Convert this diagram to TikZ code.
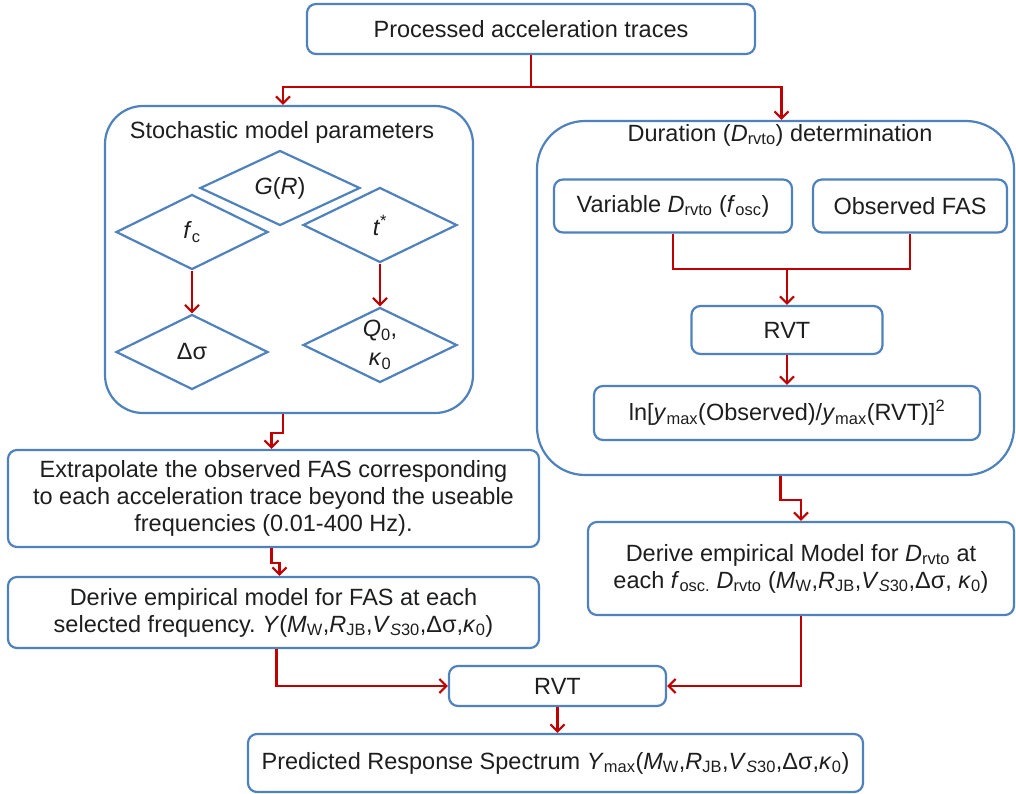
\documentclass[tikz,border=0pt]{standalone}
\usepackage{fontspec}
\setmainfont{Liberation Sans}
\usetikzlibrary{arrows.meta,shapes.geometric}
\definecolor{boxblue}{RGB}{79,129,189}
\definecolor{flowred}{RGB}{192,0,0}
\definecolor{inkgray}{RGB}{30,30,30}
\newcommand{\sbs}[1]{\textsubscript{#1}}

\begin{document}
\begin{tikzpicture}[x=1pt,y=-1pt,
    box/.style={draw=boxblue, line width=2.2pt, rounded corners=9pt, align=center,
        inner sep=0pt, text=inkgray, font=\fontsize{23.5}{27}\selectfont},
    panel/.style={draw=boxblue, line width=2.2pt, inner sep=0pt},
    dia/.style={draw=boxblue, line width=2.2pt, diamond, aspect=2, inner sep=0pt,
        align=center, minimum width=154pt, minimum height=75pt, text=inkgray,
        font=\fontsize{23.5}{27}\selectfont},
    title/.style={text=inkgray, font=\fontsize{23.5}{27}\selectfont},
    flow/.style={draw=flowred, line width=2.2pt, -{Straight Barb[length=7pt,width=14pt]}},
    link/.style={draw=flowred, line width=2.2pt}]
    \useasboundingbox (0,0) rectangle (1016,793);

    % top
    \node[box, minimum width=448pt, minimum height=50pt] (traces) at (531,29) {Processed acceleration traces};
    \coordinate (split) at (531,87);

    % stochastic model parameters
    \node[panel, rounded corners=38pt, minimum width=368pt, minimum height=307pt] (stoch) at (289,259.5) {};
    \node[title] (stochtitle) at (282,132) {Stochastic model parameters};
    \node[dia, minimum width=160pt] (gr) at (280,188) {\textit{G}(\textit{R})};
    \node[dia, minimum width=152pt] (fc) at (192,232) {\textit{f}\sbs{c}};
    \node[dia] (tstar) at (380,225) {\textit{t}\textsuperscript{*}};
    \node[dia, minimum width=152pt] (dsig) at (192,352) {Δσ};
    \node[dia] (qk) at (380,345) {\textit{Q}\sbs{0},\\[2pt]\textit{κ}\sbs{0}};

    % duration determination
    \node[panel, rounded corners=48pt, minimum width=477pt, minimum height=354pt] (dur) at (775.5,298) {};
    \node[title] (durtitle) at (780,135) {Duration (\textit{D}\sbs{rvto}) determination};
    \node[box, minimum width=238pt, minimum height=53pt] (var) at (673,206) {Variable \textit{D}\sbs{rvto} (\textit{f}\sbs{osc})};
    \node[box, minimum width=194pt, minimum height=53pt] (obs) at (910,206) {Observed FAS};
    \coordinate (join) at (787,269);
    \node[box, minimum width=191pt, minimum height=48pt] (rvta) at (787,330) {RVT};
    \node[box, minimum width=386pt, minimum height=54pt] (lnratio) at (787,413)
        {ln[\textit{y}\sbs{max}(Observed)/\textit{y}\sbs{max}(RVT)]\textsuperscript{2}};

    % lower boxes
    \node[box, minimum width=531pt, minimum height=97pt] (extrap) at (273.5,498.5)
        {Extrapolate the observed FAS corresponding\\to each acceleration trace beyond the useable\\frequencies (0.01-400 Hz).};
    \node[box, minimum width=531pt, minimum height=71pt] (derfas) at (273.5,612.5)
        {Derive empirical model for FAS at each\\selected frequency.\ \textit{Y}(\textit{M}\sbs{W},\textit{R}\sbs{JB},\textit{V}\sbs{\textit{S}30},Δσ,\textit{κ}\sbs{0})};
    \node[box, minimum width=426pt, minimum height=93pt] (derdur) at (801,568.5)
        {Derive empirical Model for \textit{D}\sbs{rvto} at\\each \textit{f}\sbs{osc.} \textit{D}\sbs{rvto} (\textit{M}\sbs{W},\textit{R}\sbs{JB},\textit{V}\sbs{\textit{S}30},Δσ, \textit{κ}\sbs{0})};
    \node[box, minimum width=217pt, minimum height=40pt] (rvtb) at (557.5,686) {RVT};
    \node[box, minimum width=615pt, minimum height=58pt] (pred) at (555.5,763)
        {Predicted Response Spectrum \textit{Y}\sbs{max}(\textit{M}\sbs{W},\textit{R}\sbs{JB},\textit{V}\sbs{\textit{S}30},Δσ,\textit{κ}\sbs{0})};

    % connectors
    \draw[link] (traces.south) -- (split);
    \draw[flow] (split) -| ([xshift=-6pt]stoch.north);
    \draw[flow] (split) -| ([xshift=6pt]dur.north);
    \draw[flow] (fc.south) -- (dsig.north);
    \draw[flow] (tstar.south) -- (qk.north);
    \draw[link] (var.south) |- (join) -| (obs.south);
    \draw[flow] (join) -- (rvta.north);
    \draw[flow] (rvta.south) -- (lnratio.north);
    \draw[flow] ([xshift=-6pt]stoch.south) -- ++(0,19) -| ([xshift=-2pt]extrap.north);
    \draw[flow] ([xshift=-2pt]extrap.south) -- ++(0,15) -| ([xshift=6pt]derfas.north);
    \draw[flow] ([xshift=5pt]dur.south) -- ++(0,24) -| (derdur.north);
    \draw[flow] ([xshift=3pt]derfas.south) |- (rvtb.west);
    \draw[flow] (derdur.south) |- (rvtb.east);
    \draw[flow] (rvtb.south) -- (rvtb.south |- pred.north);

\end{tikzpicture}
\end{document}
